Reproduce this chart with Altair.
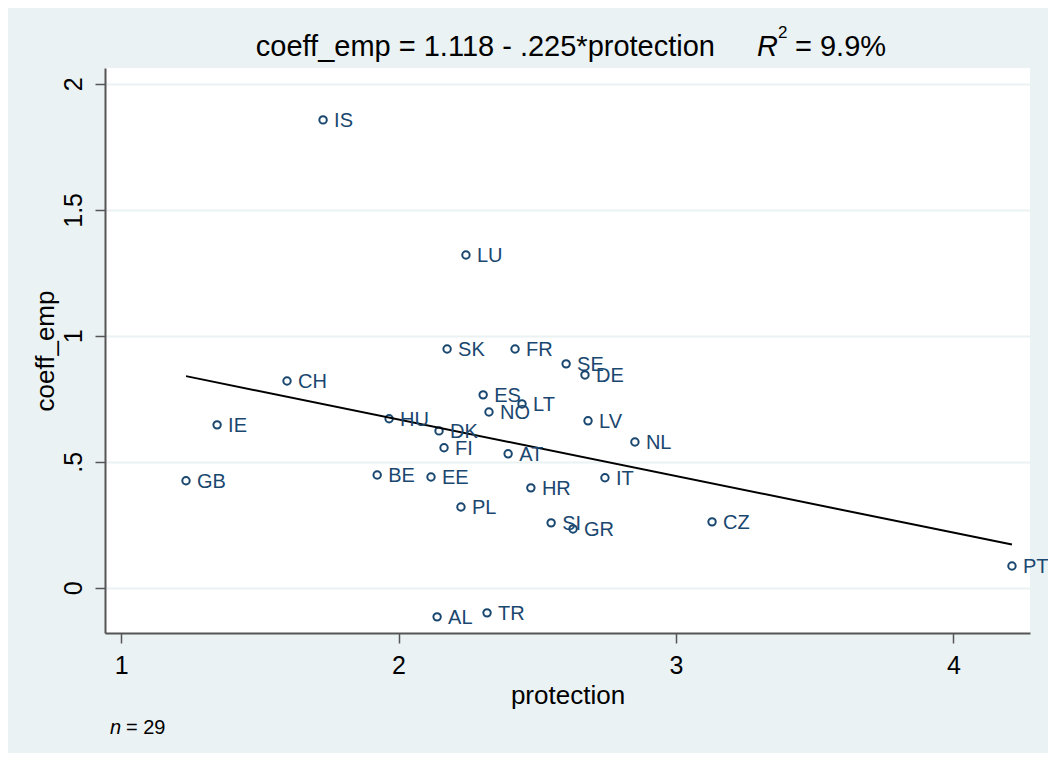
import altair as alt
import pandas as pd

countries = ["IS", "LU", "SK", "FR", "SE", "DE", "CH", "ES", "LT", "NO",
             "HU", "LV", "IE", "DK", "NL", "FI", "AT", "BE", "EE", "IT",
             "GB", "HR", "PL", "SI", "CZ", "GR", "PT", "AL", "TR"]
protection = [1.728, 2.243, 2.175, 2.420, 2.604, 2.672, 1.598, 2.305, 2.445, 2.326,
              1.966, 2.683, 1.346, 2.146, 2.852, 2.164, 2.395, 1.923, 2.117, 2.744,
              1.234, 2.477, 2.225, 2.550, 3.130, 2.629, 4.211, 2.139, 2.319]
coeff_emp = [1.857, 1.321, 0.948, 0.948, 0.889, 0.845, 0.821, 0.766, 0.730, 0.698,
             0.671, 0.663, 0.647, 0.623, 0.579, 0.556, 0.532, 0.448, 0.440, 0.437,
             0.425, 0.397, 0.321, 0.258, 0.262, 0.234, 0.087, -0.115, -0.099]

y_ticks = [0, 0.5, 1, 1.5, 2]
x_ticks = [1, 2, 3, 4]
title_main = "coeff_emp = 1.118 - .225*protection"
title_r = "R"
title_sup = "2"
title_val = "= 9.9%"
note_n = "n"
note_val = "= 29"

df = pd.DataFrame({"country": countries, "protection": protection, "coeff_emp": coeff_emp})

NAVY = "#1a476f"
BG = "#eaf2f3"
AXC = "#555555"
FONT = "Liberation Sans"

xscale = alt.Scale(domain=[0.942, 4.276], nice=False, zero=False)
yscale = alt.Scale(domain=[-0.179, 2.063], nice=False, zero=False)

common = dict(labelFontSize=25, titleFontSize=26, tickSize=10,
              domainColor=AXC, tickColor=AXC, labelColor="black", titleColor="black",
              labelFont=FONT, titleFont=FONT, titleFontWeight="normal",
              domainWidth=2, tickWidth=1.5, format="~g")

xenc = alt.X("protection:Q", scale=xscale,
             axis=alt.Axis(values=x_ticks, title="protection", grid=False,
                           labelPadding=10, titlePadding=4, **common))
yenc = alt.Y("coeff_emp:Q", scale=yscale,
             axis=alt.Axis(values=y_ticks, title="coeff_emp", grid=True,
                           gridColor=BG, gridWidth=2,
                           labelExpr="datum.value == 0.5 ? '.5' : datum.label",
                           labelAngle=270, labelAlign="center", labelBaseline="bottom",
                           labelPadding=9, titlePadding=3, **common))

base = alt.Chart(df)

points = base.mark_point(shape="circle", filled=False, color=NAVY, size=55,
                         strokeWidth=2, opacity=1).encode(x=xenc, y=yenc)

labels = base.mark_text(align="left", baseline="middle", dx=11, dy=1,
                        fontSize=20, font=FONT, color=NAVY).encode(
    x="protection:Q", y="coeff_emp:Q", text="country:N")

fit = base.transform_regression("protection", "coeff_emp").mark_line(
    color="black", strokeWidth=2).encode(x="protection:Q", y="coeff_emp:Q")

def txt(s, x, y, size, italic=False, align="left"):
    return alt.Chart(pd.DataFrame({"t": [s]})).mark_text(
        align=align, baseline="alphabetic", fontSize=size, font=FONT, color="black",
        fontStyle="italic" if italic else "normal").encode(
        text="t:N", x=alt.value(x), y=alt.value(y))

title_layers = [
    txt(title_main, 610, -12, 29, align="right"),
    txt(title_r, 652, -12, 29, italic=True),
    txt(title_sup, 673, -30, 17),
    txt(title_val, 690, -12, 29),
    txt(note_n, 5, 666, 20, italic=True),
    txt(note_val, 21, 666, 20),
]

chart = alt.layer(points, fit, labels, *title_layers).properties(
    width=925, height=565,
    autosize=alt.AutoSizeParams(type="none"),
    padding={"left": 97, "top": 60, "right": 18, "bottom": 120},
    background=BG,
).configure_view(fill="white", stroke=None)

chart.save("out.html", embed_options={"renderer": "svg", "actions": False})
